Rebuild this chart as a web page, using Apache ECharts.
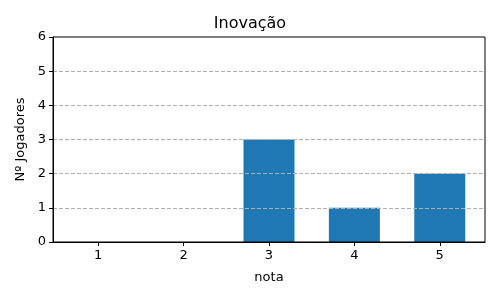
<!DOCTYPE html>
<html><head><meta charset="utf-8">
<script src="https://cdn.jsdelivr.net/npm/echarts@6/dist/echarts.min.js"></script>
<style>html,body{margin:0;padding:0;background:#fff}#c{width:500px;height:300px}</style>
</head><body><div id="c"></div>
<script>
const categories = [1, 2, 3, 4, 5];
const values = [0, 0, 3, 1, 2];
const yTicks = [0, 1, 2, 3, 4, 5, 6];
const title = 'Inovação';
const xName = 'nota';
const yName = 'Nº Jogadores';

const font = 'DejaVu Sans';
const chart = echarts.init(document.getElementById('c'), null, {renderer: 'canvas'});
chart.setOption({
  animation: false,
  title: {text: title, left: 'center', top: 11, textStyle: {fontFamily: font, fontSize: 16, fontWeight: 'normal', color: '#000'}},
  grid: {left: 53, right: 15, top: 37, bottom: 58, show: true, borderColor: '#000', borderWidth: 1, backgroundColor: 'transparent', z: 10},
  xAxis: {
    type: 'value', min: 0.47, max: 5.53, z: 5,
    name: xName, nameLocation: 'middle', nameGap: 29,
    nameTextStyle: {fontFamily: font, fontSize: 13, color: '#000'},
    axisLine: {show: true, lineStyle: {color: '#000', width: 1}},
    axisTick: {show: true, length: 4, lineStyle: {color: '#000'}, customValues: categories},
    axisLabel: {fontFamily: font, fontSize: 13, color: '#000', margin: 7, customValues: categories, formatter: v => String(v)},
    splitLine: {show: false}
  },
  yAxis: {
    type: 'value', min: 0, max: 6, interval: 1, z: 5,
    name: yName, nameLocation: 'middle', nameGap: 26, nameRotate: 90,
    nameTextStyle: {fontFamily: font, fontSize: 13, color: '#000'},
    axisLine: {show: true, lineStyle: {color: '#000', width: 1}},
    axisTick: {show: true, length: 4, lineStyle: {color: '#000'}},
    axisLabel: {fontFamily: font, fontSize: 13, color: '#000', margin: 7},
    splitLine: {show: true, showMinLine: false, showMaxLine: false, lineStyle: {color: '#b0b0b0', type: [4, 2], width: 1}}
  },
  series: [{
    type: 'bar',
    data: categories.map((c, i) => [c, values[i]]),
    barWidth: 51,
    itemStyle: {color: '#1f77b4'},
    z: 1
  }]
});
</script></body></html>
